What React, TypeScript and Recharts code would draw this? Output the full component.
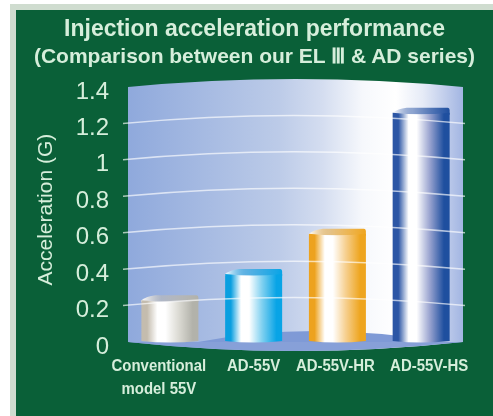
import { BarChart, Bar, XAxis, YAxis, ReferenceArea, ReferenceLine } from "recharts";

const categories = ["Conventional|model 55V", "AD-55V", "AD-55V-HR", "AD-55V-HS"];
const acceleration = [0.24, 0.385, 0.605, 1.27];
const yTicks = [0, 0.2, 0.4, 0.6, 0.8, 1, 1.2, 1.4];
const gridValues = [0.2, 0.4, 0.6, 0.8, 1, 1.2];
const barColors = [
  ["#c4bcae", "#ffffff", "#dcdbd4", "#b2b2aa"],
  ["#0a9fe0", "#ffffff", "#7fd0f0", "#08a4e6"],
  ["#eda21f", "#ffffff", "#f6cf8e", "#eea51f"],
  ["#2c56a5", "#ffffff", "#9aa4d0", "#1f4f9f"],
];

const chartData = categories.map((name, i) => ({ name, value: acceleration[i] }));
const textColor = "#d6eedb";
const green = "#0a6038";
const sans = "'Liberation Sans', sans-serif";

function Wall({ x, y, width, height }: any) {
  const bottom = y + height;
  const mid = x + width / 2;
  return (
    <g>
      <path
        d={`M${x},${y} Q${mid},${y - 16} ${x + width},${y} L${x + width},${bottom} Q${mid},${bottom + 18} ${x},${bottom} Z`}
        fill="url(#wall)"
      />
      <path d={`M${x + 70},${bottom} Q${mid + 15},${bottom - 22} ${x + width - 20},${bottom} Z`} fill="#7f9ad6" />
      <path d={`M${x},${bottom} Q${mid},${bottom + 18} ${x + width},${bottom} Z`} fill="#87a0d8" />
    </g>
  );
}

function GridCurve({ x1, x2, y1 }: any) {
  return (
    <path
      d={`M${x1},${y1} Q${(x1 + x2) / 2},${y1 - 16} ${x2},${y1}`}
      fill="none"
      stroke="#ffffff"
      strokeOpacity={0.65}
      strokeWidth={1.5}
    />
  );
}

function Cylinder({ x, y, width, height, index }: any) {
  const bottom = y + height;
  const right = x + width;
  const id = `cyl${index}`;
  return (
    <g>
      <path
        d={`M${x},${y + 2} Q${x + 5},${y - 2} ${x + 14},${y - 3} L${right - 2},${y - 3} Q${right},${y - 3} ${right},${y} L${right},${y + 4} L${x},${y + 4} Z`}
        fill={`url(#${id}top)`}
      />
      <path
        d={`M${x},${y + 2} Q${x + width / 2},${y + 5} ${right},${y + 2} L${right},${bottom - 1} Q${x + width / 2},${bottom + 2} ${x},${bottom - 1} Z`}
        fill={`url(#${id})`}
      />
    </g>
  );
}

// hand placement of the category captions, they are not centred under the bars
const captionShift = [-11, 0, -2, 8];

function CategoryTick({ x, y, payload, index }: any) {
  const lines = String(payload.value).split("|");
  const cx = x + captionShift[index];
  return (
    <text
      transform={`translate(${cx},${y}) scale(0.88,1)`}
      textAnchor="middle"
      fill={textColor}
      fontSize={17}
      fontWeight={700}
      fontFamily={sans}
    >
      {lines.map((line, i) => (
        <tspan key={line} x={0} y={i === 0 ? 21 : 44}>
          {line}
        </tspan>
      ))}
    </text>
  );
}

export default function App() {
  return (
    <div style={{ position: "fixed", left: 0, top: 0, width: 493, height: 416, background: "#ffffff", overflow: "hidden" }}>
      <div style={{ position: "absolute", left: 10, top: 4, right: 0, bottom: 0, background: "#cfdccf" }} />
      <div style={{ position: "absolute", left: 16, top: 10, right: 0, bottom: 0, background: green }} />
      <div style={{ position: "absolute", inset: 0, filter: "blur(0.6px)" }}>
        <div
          style={{
            position: "absolute",
            left: 16,
            top: 15,
            width: 477,
            textAlign: "center",
            color: textColor,
            fontFamily: sans,
            fontWeight: 700,
            lineHeight: "27px",
            whiteSpace: "nowrap",
          }}
        >
          <div style={{ fontSize: 23 }}>Injection acceleration performance</div>
          <div style={{ fontSize: 21 }}>(Comparison between our EL Ⅲ &amp; AD series)</div>
        </div>
        <div style={{ position: "absolute", left: 0, top: 0 }}>
          <BarChart
            width={493}
            height={416}
            data={chartData}
            margin={{ top: 87, right: 28, bottom: 0, left: 43 }}
            barCategoryGap="16%"
          >
            <defs>
              <linearGradient id="wall" x1="0" y1="0" x2="1" y2="0">
                <stop offset="0" stopColor="#8fa9dc" />
                <stop offset="0.45" stopColor="#bccbe8" />
                <stop offset="0.58" stopColor="#d4ddf0" />
                <stop offset="0.7" stopColor="#f6f8fc" />
                <stop offset="0.8" stopColor="#ffffff" />
                <stop offset="0.88" stopColor="#e6ebf7" />
                <stop offset="1" stopColor="#a2b5e2" />
              </linearGradient>
              {barColors.map(([a, b, c, d], i) => (
                <linearGradient key={i} id={`cyl${i}`} x1="0" y1="0" x2="1" y2="0">
                  <stop offset="0" stopColor={a} />
                  <stop offset="0.1" stopColor={a} />
                  <stop offset="0.28" stopColor={b} />
                  <stop offset="0.42" stopColor={b} />
                  <stop offset="0.65" stopColor={c} />
                  <stop offset="0.9" stopColor={d} />
                  <stop offset="1" stopColor={d} />
                </linearGradient>
              ))}
              {barColors.map(([a, , , d], i) => (
                <linearGradient key={i} id={`cyl${i}top`} x1="0" y1="0" x2="1" y2="0">
                  <stop offset="0" stopColor="#ffffff" />
                  <stop offset="0.35" stopColor={a} stopOpacity={0.5} />
                  <stop offset="1" stopColor={d} />
                </linearGradient>
              ))}
            </defs>
            <ReferenceArea y1={0} y2={1.4} shape={<Wall />} ifOverflow="visible" />
            {gridValues.map((v) => (
              <ReferenceLine key={v} y={v} shape={(p: any) => <GridCurve {...p} />} />
            ))}
            <XAxis
              dataKey="name"
              axisLine={false}
              tickLine={false}
              height={74}
              padding={{ left: 5, right: 2 }}
              interval={0}
              tick={(p: any) => <CategoryTick {...p} />}
            />
            <YAxis
              domain={[0, 1.4]}
              ticks={yTicks}
              axisLine={false}
              tickLine={false}
              width={80}
              tick={{ fill: textColor, fontSize: 24, fontFamily: sans, dy: 3 }}
              tickMargin={8}
              label={{
                value: "Acceleration (G)",
                angle: -90,
                position: "insideLeft",
                offset: 2,
                dy: 71,
                fill: textColor,
                fontSize: 21,
                fontFamily: sans,
              }}
            />
            <Bar dataKey="value" isAnimationActive={false} shape={(p: any) => <Cylinder {...p} />} />
          </BarChart>
        </div>
      </div>
    </div>
  );
}
